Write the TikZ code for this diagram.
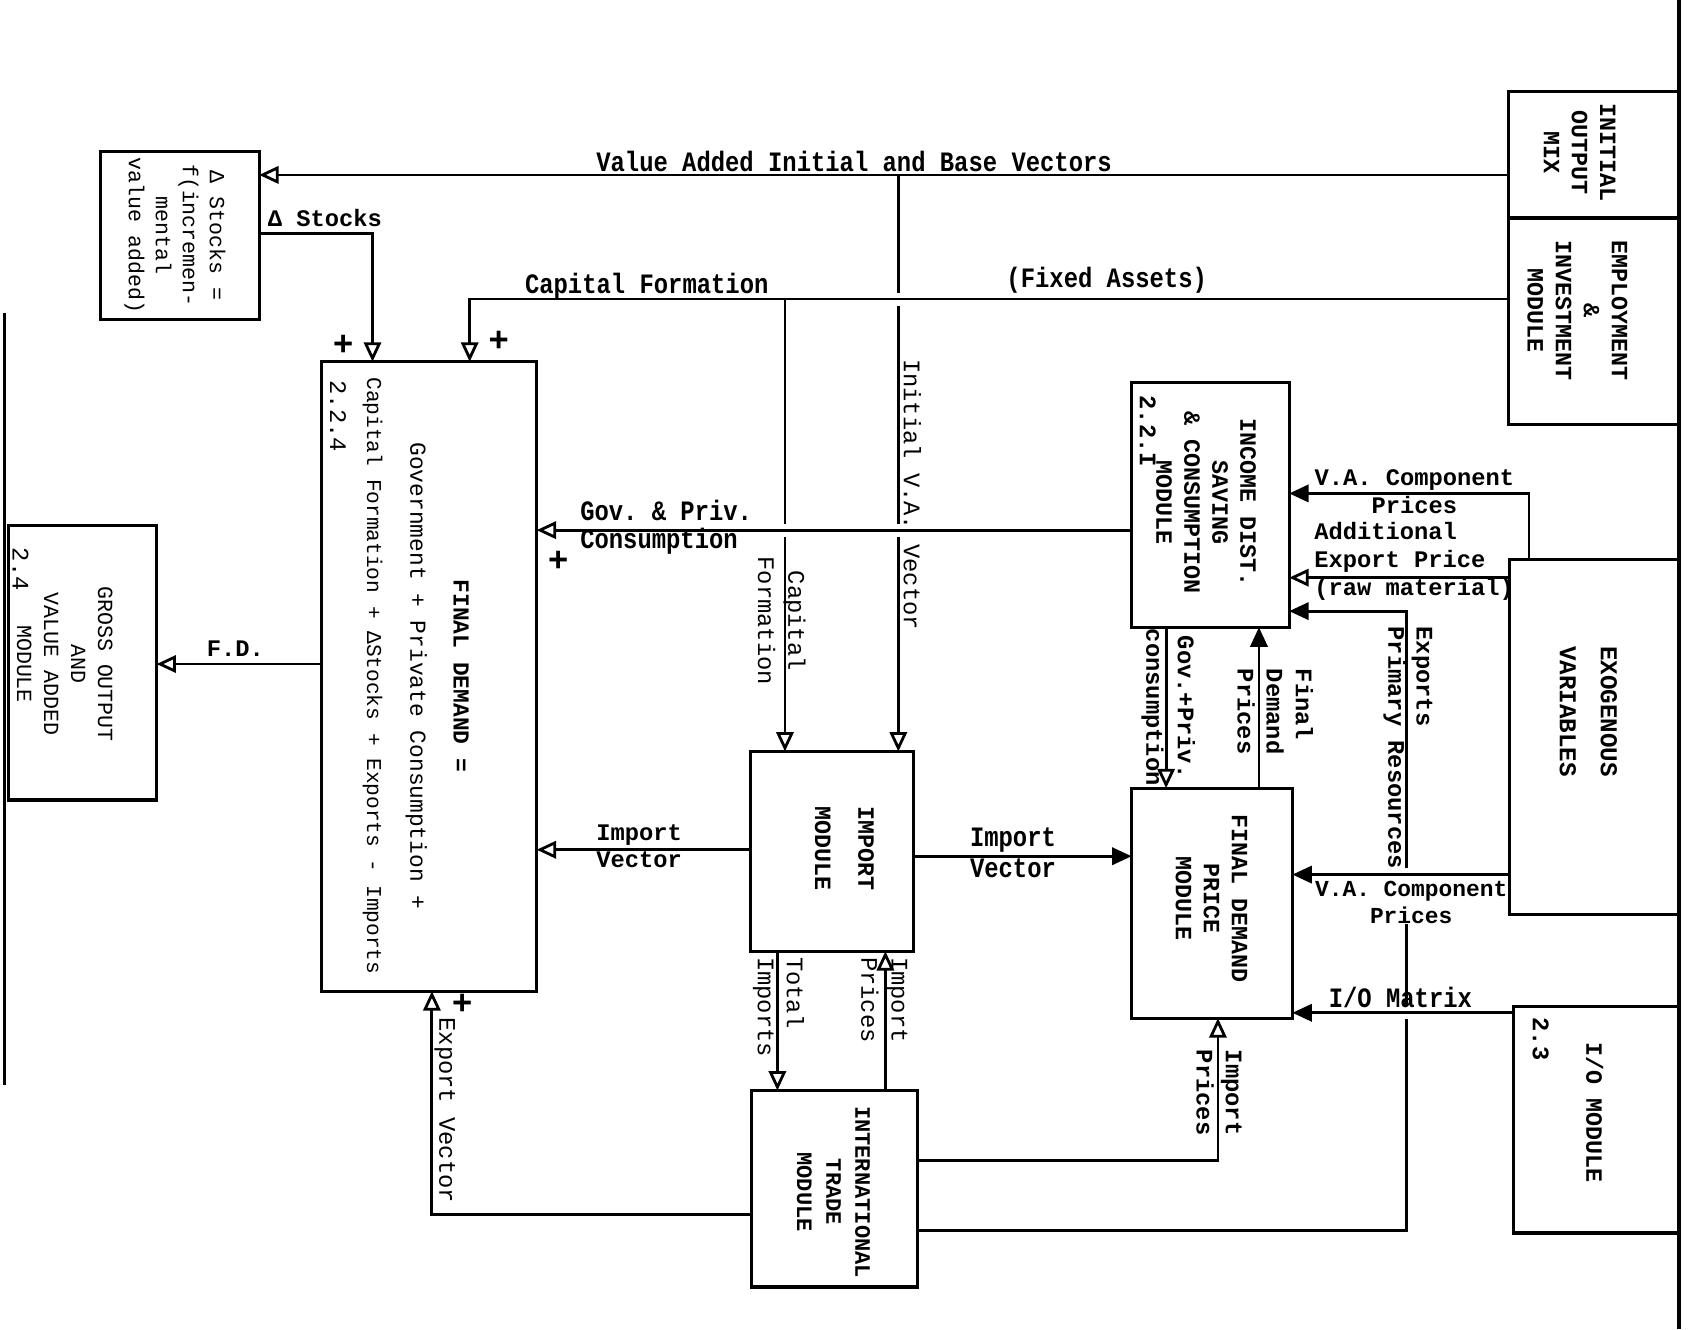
\documentclass[tikz,border=0pt]{standalone}
\usepackage{fontspec}
\setmonofont{Liberation Mono}
\newfontfamily\cnd[FakeStretch=0.85]{Liberation Mono}
\usetikzlibrary{arrows.meta}
\pgfdeclarelayer{background}
\pgfsetlayers{background,main}
\begin{document}
\frenchspacing
\begin{tikzpicture}[x=0.5pt,y=-0.5pt,
  box/.style={draw, line width=1.5pt, inner sep=0pt, outer sep=0pt},
  wh/.style 2 args={minimum width=#1*0.5pt, minimum height=#2*0.5pt},
  con/.style={line width=1.3pt, -{Triangle[open,length=9pt,width=8pt]}},
  conf/.style={line width=1.3pt, -{Triangle[length=9pt,width=8pt]}},
  halo/.style={preaction={draw=white, line width=6pt, -, shorten <=7pt, shorten >=7pt}},
  lab/.style={font=\ttfamily\bfseries\fontsize{11}{13}\selectfont, inner sep=1pt, align=left},
  labn/.style={font=\ttfamily\fontsize{11}{13}\selectfont, inner sep=1pt, align=left},
  clab/.style={font=\cnd\bfseries\fontsize{13}{13}\selectfont, inner sep=1pt, align=left},
  btx/.style={font=\ttfamily\bfseries\fontsize{10.8}{13}\selectfont, rotate=-90, align=center, inner sep=0pt},
  rot/.style={rotate=-90},
  pl/.style={font=\ttfamily\bfseries\fontsize{16}{16}\selectfont, inner sep=0pt},
]
\useasboundingbox (0,0) rectangle (1568,1231);

% ---------- boxes ----------
\node[box,wh={147}{156}] (ds)  at (166.5,218) {};
\node[box,wh={158}{117}] (iom) at (1476,143.5) {};
\node[box,wh={158}{191}] (eim) at (1476,297.5) {};
\node[box,wh={199}{583}] (fd)  at (397.5,626.5) {};
\node[box,wh={137}{254}] (go)  at (76.5,614) {};
\node[box,wh={146}{227}] (inc) at (1121,467.5) {};
\node[box,wh={151}{185}] (imp) at (770.5,788.5) {};
\node[box,wh={149}{213}] (fdp) at (1122.5,836.5) {};
\node[box,wh={157}{329}] (exo) at (1476.5,682.5) {};
\node[box,wh={153}{210}] (io)  at (1478.5,1037) {};
\node[box,wh={154}{182}] (itm) at (773,1101) {};

% page edge lines
\draw[line width=1.5pt] (1555,0) -- (1555,1231);
\draw[line width=1.5pt] (4,290) -- (4,1005);

% ---------- box texts ----------
\node[btx,font=\ttfamily\fontsize{10}{12.5}\selectfont] (t-ds) at (162,218) {Δ Stocks =\\f(incremen-\\mental\\value added)};
\node[btx] (t-iom) at (1463,141) {INITIAL\\OUTPUT\\MIX};
\node[btx] (t-eim) at (1461,288) {EMPLOYMENT\\\&\\INVESTMENT\\MODULE};
\node[btx,font=\ttfamily\fontsize{10.6}{20}\selectfont] (t-fd) at (385,626)
  {\textbf{FINAL DEMAND =}\\Government + Private Consumption +\\{\fontsize{9.8}{20}\selectfont Capital Formation + ΔStocks + Exports - Imports}};
\node[labn,rot,anchor=west] (t-fd2) at (313,350) {2.2.4};
\node[btx,font=\ttfamily\fontsize{10}{12.5}\selectfont] (t-go) at (60,615) {GROSS OUTPUT\\AND\\VALUE ADDED\\MODULE};
\node[labn,rot,anchor=west] (t-go2) at (19,505) {2.4};
\node[btx] (t-inc) at (1117,465) {INCOME DIST.\\SAVING\\\& CONSUMPTION\\MODULE};
\node[lab,rot,anchor=west] (t-inc2) at (1063,364) {2.2.I};
\node[btx,font=\ttfamily\bfseries\fontsize{10.8}{20}\selectfont] (t-imp) at (782,786) {IMPORT\\MODULE};
\node[btx] (t-fdp) at (1122,832) {FINAL DEMAND\\PRICE\\MODULE};
\node[btx,font=\ttfamily\bfseries\fontsize{11.2}{19}\selectfont] (t-exo) at (1471,659) {EXOGENOUS\\VARIABLES};
\node[btx] (t-io) at (1477,1030) {I/O MODULE};
\node[lab,rot,anchor=west] (t-io2) at (1427,940) {2.3};
\node[btx,font=\ttfamily\bfseries\fontsize{10.2}{13.5}\selectfont] (t-itm) at (772,1104) {INTERNATIONAL\\TRADE\\MODULE};

% ---------- connector labels ----------
\node[clab] (l-va) at (791,150) {Value Added Initial and Base Vectors};
\node[lab] (l-st) at (301,202) {Δ Stocks};
\node[clab] (l-cf) at (599,265) {Capital Formation};
\node[clab] (l-fa) at (1025,260) {(Fixed Assets)};
\node[labn,rot] (l-iv) at (845,458) {Initial V.A. Vector};
\node[labn,rot,align=center,font=\ttfamily\fontsize{11}{14}\selectfont] (l-cf2) at (724,575) {Capital\\Formation};
\node[clab,anchor=west] (l-gp) at (535,488) {Gov. \& Priv.\\Consumption};
\node[pl] (p1) at (318,320) {+};
\node[pl] (p2) at (462,316) {+};
\node[pl] (p3) at (517,520) {+};
\node[pl] (p4) at (428,930) {+};
\node[lab] (l-fd) at (218,601) {F.D.};
\node[lab,anchor=west,font=\ttfamily\bfseries\fontsize{11}{12.5}\selectfont] (l-iv1) at (550,784) {Import\\Vector};
\node[clab,anchor=west,font=\cnd\bfseries\fontsize{13}{14.5}\selectfont] (l-iv2) at (896,790) {Import\\Vector};
\node[labn,rot,anchor=west,font=\ttfamily\fontsize{11}{13.5}\selectfont] (l-ti) at (721,884) {Total\\Imports};
\node[labn,rot,anchor=west,font=\ttfamily\fontsize{11}{14}\selectfont] (l-ip) at (819,884) {Import\\Prices};
\node[labn,rot,anchor=west] (l-ex) at (412,940) {Export Vector};
\node[lab,rot,anchor=west,font=\ttfamily\bfseries\fontsize{11}{13.5}\selectfont] (l-ip2) at (1129,970) {Import\\Prices};
\node[lab,align=center] (l-va1) at (1310,455) {V.A. Component\\Prices};
\node[lab,anchor=north west] (l-ae) at (1215,481) {Additional\\Export Price\\(raw material)};
\node[lab,rot,anchor=west] (l-ep) at (1304,578) {Exports\\Primary Resources};
\node[lab,align=center,fill=white,inner sep=0pt,font=\ttfamily\bfseries\fontsize{10.6}{12.5}\selectfont] (l-va2) at (1307,836) {V.A. Component\\Prices};
\node[clab] (l-io) at (1297,924) {I/O Matrix};
\node[lab,rot,align=center,font=\ttfamily\bfseries\fontsize{11}{14.5}\selectfont] (l-gc) at (1082,655) {Gov.+Priv.\\consumption};
\node[lab,rot,anchor=west,font=\ttfamily\bfseries\fontsize{11}{13.5}\selectfont] (l-fp) at (1181,617) {Final\\Demand\\Prices};

% ---------- connectors ----------
\coordinate (pVA) at (832,162);
\coordinate (pCF) at (435,277);
\coordinate (pCF2) at (727,277);
\coordinate (pST) at (345,216);
\coordinate (pGP) at (700,491);
\coordinate (pFD) at (200,615);
\coordinate (pIV1) at (600,787);
\coordinate (pIV2) at (950,793);
\coordinate (pTI) at (720,950);
\coordinate (pIP) at (820,950);
\coordinate (pEX) at (400,1125);
\coordinate (pIP2) at (1128,1075);
\coordinate (pEP1) at (1303,1140);
\coordinate (pEP2) at (1303,566);
\coordinate (pVA1) at (1416,457);
\coordinate (pAE) at (1300,535);
\coordinate (pVA2) at (1300,810);
\coordinate (pIO) at (1300,938);
\coordinate (pGC) at (1080,650);
\coordinate (pFP) at (1166,650);

\begin{pgfonlayer}{background}
\draw[con] (iom.west |- pVA) -- (ds.east |- pVA);
\draw[con] (pVA) -- (pVA |- imp.north);
\draw[con,halo] (eim.west |- pCF) -- (pCF) -- (pCF |- fd.north);
\draw[con] (pCF2) -- (pCF2 |- imp.north);
\draw[con] (ds.east |- pST) -- (pST) -- (pST |- fd.north);
\draw[con,halo] (inc.west |- pGP) -- (fd.east |- pGP);
\draw[con] (fd.west |- pFD) -- (go.east |- pFD);
\draw[con] (imp.west |- pIV1) -- (fd.east |- pIV1);
\draw[conf] (imp.east |- pIV2) -- (fdp.west |- pIV2);
\draw[con] (imp.south -| pTI) -- (itm.north -| pTI);
\draw[con] (itm.north -| pIP) -- (imp.south -| pIP);
\draw[con] (itm.west |- pEX) -- (pEX) -- (pEX |- fd.south);
\draw[con] (itm.east |- pIP2) -- (pIP2) -- (pIP2 |- fdp.south);
\draw[conf] (itm.east |- pEP1) -- (pEP1) -- (pEP2) -- (inc.east |- pEP2);
\draw[conf] (exo.north -| pVA1) -- (pVA1) -- (inc.east |- pVA1);
\draw[con] (exo.west |- pAE) -- (inc.east |- pAE);
\draw[conf,halo] (exo.west |- pVA2) -- (fdp.east |- pVA2);
\draw[conf,halo] (io.west |- pIO) -- (fdp.east |- pIO);
\draw[con] (inc.south -| pGC) -- (fdp.north -| pGC);
\draw[conf] (fdp.north -| pFP) -- (inc.south -| pFP);
\end{pgfonlayer}
\end{tikzpicture}
\end{document}
